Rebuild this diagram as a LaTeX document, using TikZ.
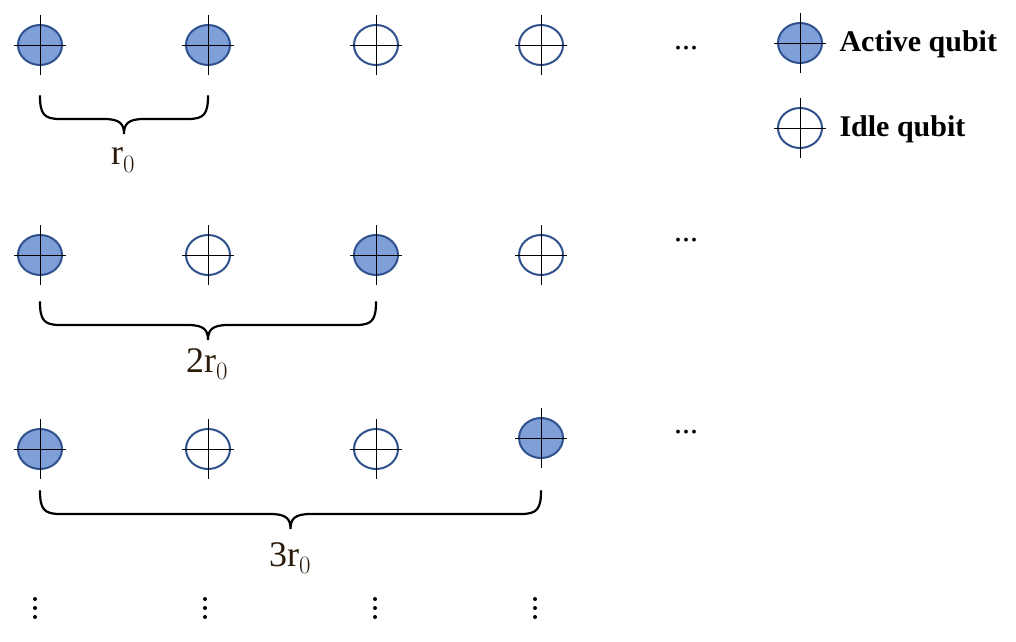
\documentclass[tikz,border=0pt]{standalone}
\usepackage{fontspec}
\setmainfont{Liberation Serif}
\usetikzlibrary{shapes.geometric}
\definecolor{qfill}{HTML}{7F9FD9}
\definecolor{qline}{HTML}{2F528F}
\definecolor{lbl}{HTML}{2A1A0A}
\begin{document}
\begin{tikzpicture}[x=1pt,y=-1pt,
  qubit/.style={draw=qline,line width=2pt,ellipse,minimum width=44pt,minimum height=40pt,inner sep=0pt},
  active/.style={qubit,fill=qfill},
  idle/.style={qubit,fill=white},
  brace/.style={line width=2.2pt,line cap=round},
  lab/.style={text=lbl,font=\fontsize{36}{36}\selectfont},
  hdots/.style={font=\fontsize{32}{32}\selectfont}]
\useasboundingbox (0,0) rectangle (1016,641);
\newcommand{\qb}[4]{%
  \node[#1] (#4) at (#2,#3) {};
  \draw[line width=1pt] (#2-26,#3) -- (#2+26,#3) (#2,#3-30) -- (#2,#3+30);}
\newcommand{\brc}[4]{% x1 x2 ytop name
  \coordinate (#4) at ({(#1+#2)/2},#3+38);
  \draw[brace] (#1,#3) .. controls (#1,#3+18) and (#1+4,#3+23) .. (#1+20,#3+23)
    -- ({(#1+#2)/2-20},#3+23) .. controls ({(#1+#2)/2-4},#3+23) and ({(#1+#2)/2},#3+28) .. (#4)
    .. controls ({(#1+#2)/2},#3+28) and ({(#1+#2)/2+4},#3+23) .. ({(#1+#2)/2+20},#3+23)
    -- (#2-20,#3+23) .. controls (#2-4,#3+23) and (#2,#3+18) .. (#2,#3);}
% row 1
\qb{active}{40}{45}{a1}\qb{active}{208}{45}{a2}\qb{idle}{376}{45}{a3}\qb{idle}{541}{45}{a4}
\node[hdots] (d1) at (686,48) {...};
\brc{40}{208}{96}{t1}
\node[lab] (l1) at (123,160) {r$_{\scriptstyle 0}$};
% row 2
\qb{active}{40}{255}{b1}\qb{idle}{208}{255}{b2}\qb{active}{376}{255}{b3}\qb{idle}{541}{255}{b4}
\node[hdots] (d2) at (686,240) {...};
\brc{40}{376}{302}{t2}
\node[lab] (l2) at (207,364) {2r$_{\scriptstyle 0}$};
% row 3
\qb{active}{40}{449}{c1}\qb{idle}{208}{449}{c2}\qb{idle}{376}{449}{c3}\qb{active}{541}{438}{c4}
\node[hdots] (d3) at (686,432) {...};
\brc{40}{541}{491}{t3}
\node[lab] (l3) at (290,558) {3r$_{\scriptstyle 0}$};
% vdots
\foreach \x/\n in {35/v1,205/v2,375/v3,535/v4}{
  \coordinate (\n) at (\x,608);
  \foreach \dy in {-9,0,9} \fill ([yshift=-\dy pt]\n) circle (2pt);}
% legend
\qb{active}{800}{43}{la}\qb{idle}{800}{128}{li}
\node[anchor=west,font=\bfseries\fontsize{30}{30}\selectfont] (ta) at (836,44) {Active qubit};
\node[anchor=west,font=\bfseries\fontsize{30}{30}\selectfont] (ti) at (836,129) {Idle qubit};
\end{tikzpicture}
\end{document}
